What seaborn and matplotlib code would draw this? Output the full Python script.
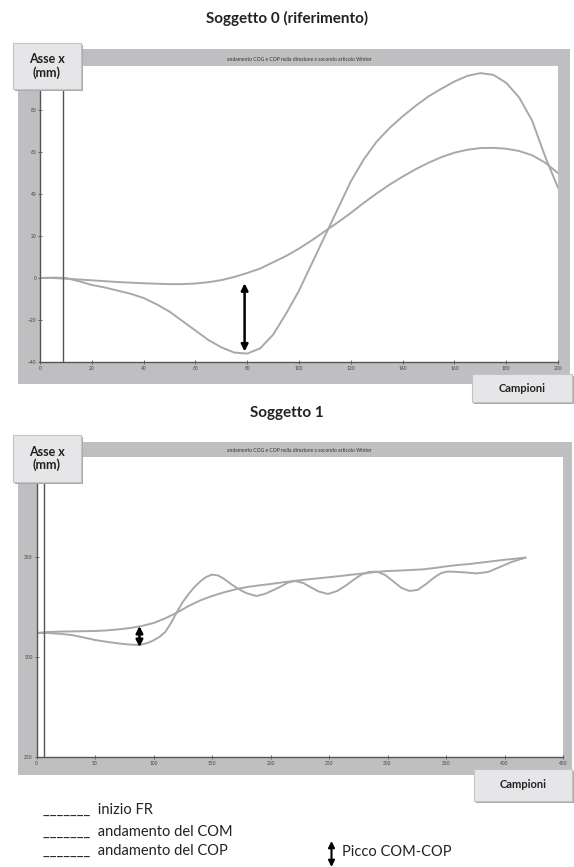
import matplotlib
matplotlib.use("Agg")
import matplotlib.pyplot as plt
from matplotlib.patches import Rectangle, FancyArrowPatch
import numpy as np
import pandas as pd
import seaborn as sns

# ---------------- data ----------------
# Soggetto 0 (riferimento)
s0_x = [0, 5, 10, 15, 20, 25, 30, 35, 40, 45, 50, 55, 60, 65, 70, 75, 80, 85, 90, 95,
        100, 105, 110, 115, 120, 125, 130, 135, 140, 145, 150, 155, 160, 165, 170, 175,
        180, 185, 190, 195, 200]
s0_com = [0, 0, -0.3, -0.7, -1.1, -1.5, -1.9, -2.2, -2.5, -2.7, -2.9, -2.9, -2.6, -2.0,
          -1.0, 0.5, 2.4, 4.5, 7.5, 10.5, 14, 18, 22.3, 26.5, 31, 35.8, 40.3, 44.5, 48.3,
          51.8, 54.9, 57.6, 59.7, 61.1, 61.9, 62, 61.6, 60.5, 58.5, 55, 50]
s0_cop = [0, 0.2, 0, -1.5, -3.3, -4.5, -6, -7.5, -9.5, -12.5, -16, -20.5, -25, -29.5,
          -33, -35.5, -36, -33.5, -27, -17, -6, 7, 20, 33, 46, 56.5, 65, 71.5, 77,
          82, 86.5, 90.2, 93.6, 96.3, 97.6, 96.8, 93, 86, 75, 58, 43]
s0_fr = 9
s0_peak = (79, -35, -2.5)

# Soggetto 1
s1_com_x = [0, 10, 20, 30, 40, 50, 60, 70, 80, 90, 100, 110, 120, 130, 140, 150, 160,
            170, 180, 190, 200, 210, 220, 230, 240, 250, 260, 270, 280, 290, 300, 310,
            320, 330, 340, 350, 360, 370, 380, 390, 400, 410, 418]
s1_com = [312, 312.5, 312.7, 312.8, 312.9, 313, 313.3, 313.8, 314.5, 315.5, 317, 319.3,
          322.2, 325.5, 328.3, 330.5, 332.3, 333.8, 335, 335.8, 336.5, 337.3, 338,
          338.7, 339.3, 339.9, 340.5, 341.2, 341.8, 342.5, 343, 343.2, 343.5, 343.8,
          344.5, 345.3, 346, 346.5, 347.2, 347.9, 348.6, 349.2, 349.7]
s1_cop_x = [0, 10, 20, 30, 40, 50, 60, 70, 80, 88, 95, 100, 105, 110, 115, 120, 125,
            130, 135, 140, 145, 150, 155, 160, 165, 170, 175, 180, 188, 195, 200, 208,
            215, 221, 228, 234, 241, 249, 257, 265, 272, 278, 284, 291, 298, 305, 312,
            319, 326, 333, 340, 346, 351, 358, 366, 376, 386, 396, 406, 418]
s1_cop = [312, 312, 311.6, 311, 309.8, 308.5, 307.6, 306.8, 306.2, 306, 307, 308.3,
          310, 312.5, 317, 322.5, 327.5, 331.5, 335, 337.8, 340, 341.2, 340.8, 339.2,
          337, 335, 333.2, 331.8, 330.5, 331.5, 332.8, 335, 337.2, 338, 337, 335, 332.8,
          331.5, 333, 336, 339, 341.3, 342.5, 342.7, 341, 337.8, 334.5, 333, 333.6,
          336.5, 339.8, 342, 342.7, 342.6, 342.3, 341.8, 342.5, 345, 347.5, 349.7]
s1_fr = 6.5
s1_peak = (88, 305, 315.5)

top_xticks = list(range(0, 201, 20))
top_yticks = list(range(-40, 81, 20))
bot_xticks = list(range(0, 451, 50))
bot_yticks = [250, 300, 350]

titles = ["Soggetto 0 (riferimento)", "Soggetto 1"]
inner_title = "andamento COG e COP nella direzione x secondo articolo Winter"
legend_items = ["_______  inizio FR", "_______  andamento del COM", "_______  andamento del COP"]
peak_label = "Picco COM-COP"

# ---------------- layout ----------------
sns.set_style("white")
plt.rcParams["font.family"] = ["Lato", "DejaVu Sans"]

W, H = 574, 867
fig = plt.figure(figsize=(W / 100, H / 100), dpi=100)
fig.patch.set_facecolor("white")


def frac(x0, y0, x1, y1):
    return [x0 / W, 1 - y1 / H, (x1 - x0) / W, (y1 - y0) / H]


def add_rect(x0, y0, x1, y1, fc, ec="none", lw=0, z=0):
    l, b, w, h = frac(x0, y0, x1, y1)
    r = Rectangle((l, b), w, h, transform=fig.transFigure, facecolor=fc,
                  edgecolor=ec, linewidth=lw, zorder=z)
    fig.add_artist(r)


def add_box(x0, y0, x1, y1, text, size):
    add_rect(x0 + 2, y0 + 2, x1 + 2, y1 + 2, "#a9a9ab", z=5)
    add_rect(x0, y0, x1, y1, "#e6e6e8", "#c4c4c6", 0.8, z=6)
    fig.text((x0 + x1) / 2 / W, 1 - (y0 + y1) / 2 / H, text, ha="center", va="center",
             fontsize=size, fontweight="bold", color="#222222", zorder=7,
             linespacing=1.1)


FRAME = "#bfbfc1"
LINE = "#a8a8a8"

panels = [
    dict(frame=(18, 49, 570, 384), ax=(40, 66, 558, 362), title_y=18,
         box=(13, 43, 81, 89), camp=(472, 374, 572, 402),
         com=(s0_x, s0_com), cop=(s0_x, s0_cop), fr=s0_fr, peak=s0_peak,
         xlim=(0, 200), ylim=(-40, 101), xt=top_xticks, yt=top_yticks),
    dict(frame=(18, 442, 572, 775), ax=(36.5, 457, 563, 757), title_y=413,
         box=(13, 435, 81, 482), camp=(474, 769, 572, 801),
         com=(s1_com_x, s1_com), cop=(s1_cop_x, s1_cop), fr=s1_fr, peak=s1_peak,
         xlim=(0, 450), ylim=(250, 400), xt=bot_xticks, yt=bot_yticks),
]

for i, p in enumerate(panels):
    add_rect(*p["frame"], FRAME, z=-1)
    ax = fig.add_axes(frac(*p["ax"]))
    ax.set_facecolor("white")
    df_com = pd.DataFrame({"x": p["com"][0], "y": p["com"][1]})
    df_cop = pd.DataFrame({"x": p["cop"][0], "y": p["cop"][1]})
    sns.lineplot(data=df_com, x="x", y="y", ax=ax, color=LINE, lw=1.4,
                 sort=False, estimator=None)
    sns.lineplot(data=df_cop, x="x", y="y", ax=ax, color=LINE, lw=1.4,
                 sort=False, estimator=None)
    ax.axvline(p["fr"], color="#555555", lw=1.0)
    px, plo, phi = p["peak"]
    ax.annotate("", xy=(px, plo), xytext=(px, phi),
                arrowprops=dict(arrowstyle="<|-|>", color="black", lw=1.8,
                                mutation_scale=10, shrinkA=0, shrinkB=0))
    ax.set_xlim(*p["xlim"])
    ax.set_ylim(*p["ylim"])
    ax.set_xticks(p["xt"])
    ax.set_yticks(p["yt"])
    ax.set_xlabel("")
    ax.set_ylabel("")
    for s in ["top", "right"]:
        ax.spines[s].set_visible(False)
    for s in ["left", "bottom"]:
        ax.spines[s].set_color("#555555")
        ax.spines[s].set_linewidth(1.0)
    ax.tick_params(axis="both", which="both", labelsize=3.5, colors="#555555",
                   labelcolor="#444444", length=3, width=0.6, pad=1.2,
                   direction="inout", left=True, bottom=True)
    ax.set_title(inner_title, fontsize=3.6, color="#333333", pad=3.5)
    fig.text(0.5, 1 - p["title_y"] / H, titles[i], ha="center", va="center",
             fontsize=11, fontweight="bold", color="#222222")
    add_box(*p["box"], "Asse x\n(mm)", 9)
    add_box(*p["camp"], "Campioni", 8)

# legend text at the bottom
leg_y = [810, 832, 851]
for txt, yy in zip(legend_items, leg_y):
    fig.text(43 / W, 1 - yy / H, txt, ha="left", va="center", fontsize=10.5,
             color="#222222")
fig.text(342 / W, 1 - 852 / H, peak_label, ha="left", va="center", fontsize=10.5,
         color="#222222")
fig.add_artist(FancyArrowPatch(
    (331.5 / W, 1 - 841 / H), (331.5 / W, 1 - 867 / H), transform=fig.transFigure,
    arrowstyle="<|-|>", color="black", lw=1.5, mutation_scale=9,
    shrinkA=0, shrinkB=0))

fig.savefig("out.png", dpi=100)
